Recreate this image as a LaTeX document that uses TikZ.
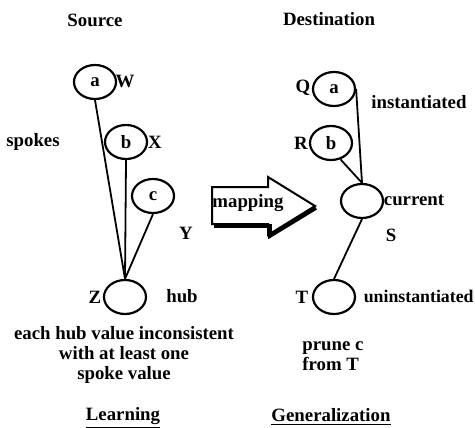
\documentclass[tikz,border=0pt]{standalone}
\usepackage{fontspec}
\setmainfont{Liberation Serif}
\usetikzlibrary{shapes.geometric, positioning}

\begin{document}
\begin{tikzpicture}[x=0.5pt, y=-0.5pt, font=\fontsize{9.4}{10}\selectfont\bfseries,
    var/.style={ellipse, draw, line width=1.1pt, inner sep=0pt, minimum width=21pt, minimum height=17pt},
    tag/.style={inner sep=0pt},
    line/.style={draw, line width=0.9pt}]
    \useasboundingbox (0,0) rectangle (475,427);

    % source side
    \node [tag] (src) at (95,20) {Source};
    \node [var] (wa) at (95,82) {a};
    \node [var] (xb) at (126,142) {b};
    \node [var] (yc) at (153,196) {c};
    \node [var] (hub) at (125,297) {};
    \node [tag] (wlbl) at (125,81) {W};
    \node [tag] (xlbl) at (155,142) {X};
    \node [tag] (ylbl) at (186,233) {Y};
    \node [tag] (zlbl) at (95,297) {Z};
    \node [tag] (spokes) at (33,142) {spokes};
    \node [tag] (hublbl) at (182,296) {hub};
    \node [tag, align=center] (note) at (124,355) {each hub value inconsistent\\with at least one\\spoke value};
    \node [tag] (learn) at (123,418) {\underline{Learning}};

    \path [line] (wa.south) -- (hub.north);
    \path [line] (xb.south) -- (hub.north);
    \path [line] (yc.south) -- (hub.north);

    % mapping arrow
    \draw [line width=1pt, line join=miter]
        (212,187) -- (268,187) -- (268,177) -- (315,206) -- (268,235) -- (268,224) -- (212,224) -- cycle;
    \draw [line width=1.8pt] (214,226) -- (270,226) -- (270,236) -- (316,208);
    \node [tag] (map) at (248,203) {mapping};

    % destination side
    \node [tag] (dst) at (329,19) {Destination};
    \node [var] (qa) at (334,89) {a};
    \node [var] (rb) at (331,143) {b};
    \node [var] (cur) at (362,201) {};
    \node [var] (tv) at (334,297) {};
    \node [tag] (qlbl) at (303,88) {Q};
    \node [tag] (rlbl) at (301,143) {R};
    \node [tag] (slbl) at (391,235) {S};
    \node [tag] (tlbl) at (302,297) {T};
    \node [tag] (inst) at (419,102) {instantiated};
    \node [tag] (curlbl) at (414,200) {current};
    \node [tag, anchor=east, font=\fontsize{8.9}{10}\selectfont\bfseries] (uninst) at (474,296) {uninstantiated};
    \node [tag, align=left, anchor=west] (prune) at (302,356) {prune c\\from T};
    \node [tag] (gen) at (331,417) {\underline{Generalization}};

    \path [line] (qa.east) -- (cur.north);
    \path [line] (rb.-60) -- (cur.north);
    \path [line] (cur.south) -- (tv.north);
\end{tikzpicture}
\end{document}
